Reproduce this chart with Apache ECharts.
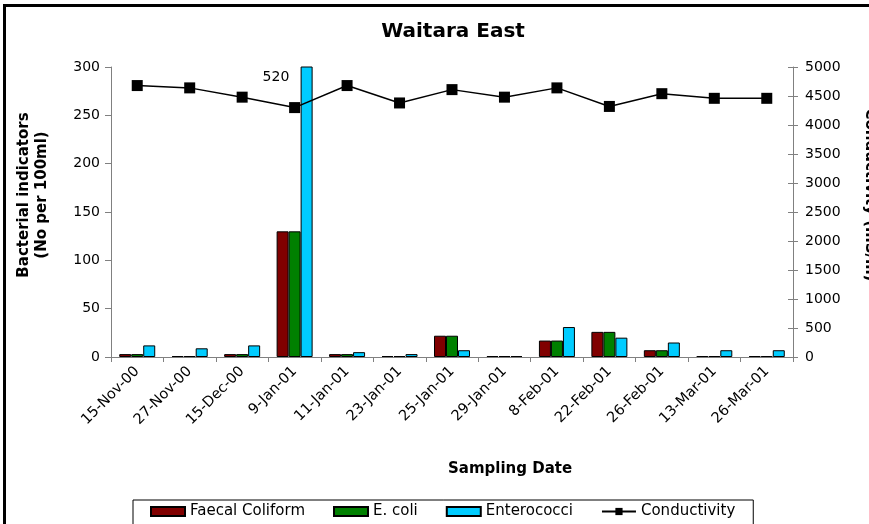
<!DOCTYPE html>
<html>
<head>
<meta charset="utf-8">
<script src="https://cdn.jsdelivr.net/npm/echarts@6/dist/echarts.min.js"></script>
<style>
    html, body { margin: 0; padding: 0; background: #fff; }
    #chart { width: 869px; height: 524px; }
</style>
</head>
<body>
<div id="chart"></div>
<script>
    const categories = ['15-Nov-00', '27-Nov-00', '15-Dec-00', '9-Jan-01', '11-Jan-01', '23-Jan-01', '25-Jan-01',
        '29-Jan-01', '8-Feb-01', '22-Feb-01', '26-Feb-01', '13-Mar-01', '26-Mar-01']
    const faecalColiform = [3, 1, 3, 130, 3, 1, 22, 1, 17, 26, 7, 1, 1]
    const eColi = [3, 1, 3, 130, 3, 1, 22, 1, 17, 26, 7, 1, 1]
    const enterococci = [12, 9, 12, 520, 5, 3, 7, 1, 31, 20, 15, 7, 7]
    const conductivity = [4680, 4640, 4480, 4300, 4680, 4380, 4610, 4480, 4640, 4320, 4540, 4460, 4460]
    const bacteriaTicks = [0, 300, 50]
    const condTicks = [0, 5000, 500]

    const font = 'DejaVu Sans'
    const axisGray = '#808080'

    // the 9-Jan enterococci value runs off the top, so label it by hand
    const enteroData = enterococci.map((v, i) => {
        if (v <= bacteriaTicks[1]) return v
        return {
            value: v,
            label: {
                show: true,
                position: [-38, 4],
                align: 'left',
                verticalAlign: 'top',
                formatter: '{c}',
                color: '#000',
                fontFamily: font,
                fontSize: 14
            }
        }
    })

    const barStyle = (color) => ({ color: color, borderColor: '#000', borderWidth: 1 })

    const myChart = echarts.init(document.getElementById('chart'))
    const option = {
        animation: false,
        backgroundColor: '#fff',
        textStyle: { fontFamily: font },
        title: {
            text: 'Waitara East',
            left: 448,
            top: 17,
            textAlign: 'center',
            textStyle: { fontFamily: font, fontSize: 20, fontWeight: 'bold', color: '#000' }
        },
        graphic: [
            {
                type: 'rect',
                shape: { x: 4.5, y: 5.5, width: 1000, height: 1000 },
                style: { fill: 'none', stroke: '#000', lineWidth: 3 },
                silent: true
            },
            {
                type: 'text',
                left: 448,
                top: 462,
                style: {
                    text: 'Sampling Date',
                    fill: '#000',
                    font: 'bold 15px "DejaVu Sans"',
                    textAlign: 'center'
                }
            }
        ],
        legend: {
            left: 133,
            top: 500,
            padding: [4, 18, 10, 17],
            borderColor: '#000',
            borderWidth: 1,
            itemWidth: 34,
            itemHeight: 9,
            itemGap: 28,
            textStyle: { fontFamily: font, fontSize: 15, color: '#000' },
            data: [
                { name: 'Faecal Coliform', icon: 'rect' },
                { name: 'E. coli', icon: 'rect' },
                { name: 'Enterococci', icon: 'rect' },
                'Conductivity'
            ]
        },
        grid: {
            left: 111,
            right: 76,
            top: 67,
            bottom: 167,
            containLabel: false,
            outerBoundsMode: 'none'
        },
        xAxis: {
            type: 'category',
            data: categories,
            axisLine: { lineStyle: { color: axisGray } },
            axisTick: { show: true, length: 5, lineStyle: { color: axisGray } },
            axisLabel: {
                interval: 0,
                rotate: 45,
                margin: 12,
                color: '#000',
                fontFamily: font,
                fontSize: 14.5
            }
        },
        yAxis: [
            {
                type: 'value',
                min: bacteriaTicks[0],
                max: bacteriaTicks[1],
                interval: bacteriaTicks[2],
                name: 'Bacterial indicators\n(No per 100ml)',
                nameLocation: 'middle',
                nameGap: 60,
                nameRotate: 90,
                nameTextStyle: {
                    fontFamily: font,
                    fontSize: 15,
                    fontWeight: 'bold',
                    color: '#000',
                    lineHeight: 18,
                    padding: [0, 0, 0, 34]
                },
                splitLine: { show: false },
                axisLine: { show: true, lineStyle: { color: axisGray } },
                axisTick: { show: true, length: 6, lineStyle: { color: axisGray } },
                axisLabel: { margin: 11, color: '#000', fontFamily: font, fontSize: 14 }
            },
            {
                type: 'value',
                position: 'right',
                min: condTicks[0],
                max: condTicks[1],
                interval: condTicks[2],
                name: 'Conductivity (mS/m)',
                nameLocation: 'middle',
                nameGap: 69,
                nameRotate: -90,
                nameTextStyle: {
                    fontFamily: font,
                    fontSize: 15,
                    fontWeight: 'bold',
                    color: '#000',
                    padding: [0, 34, 0, 0]
                },
                splitLine: { show: false },
                axisLine: { show: true, lineStyle: { color: axisGray } },
                axisTick: { show: true, length: 5, lineStyle: { color: axisGray } },
                axisLabel: {
                    margin: 12,
                    color: '#000',
                    fontFamily: font,
                    fontSize: 14,
                    formatter: (v) => String(v)
                }
            },
            {
                // inner half of the right axis ticks (they cross the line)
                type: 'value',
                position: 'right',
                min: condTicks[0],
                max: condTicks[1],
                interval: condTicks[2],
                splitLine: { show: false },
                axisLine: { show: false },
                axisLabel: { show: false },
                axisTick: { show: true, inside: true, length: 5, lineStyle: { color: axisGray } }
            }
        ],
        series: [
            {
                name: 'Faecal Coliform',
                type: 'bar',
                barWidth: 12,
                barGap: '0%',
                itemStyle: barStyle('#800000'),
                data: faecalColiform
            },
            {
                name: 'E. coli',
                type: 'bar',
                barWidth: 12,
                barGap: '0%',
                itemStyle: barStyle('#008000'),
                data: eColi
            },
            {
                name: 'Enterococci',
                type: 'bar',
                barWidth: 12,
                barGap: '0%',
                clip: true,
                itemStyle: barStyle('#00CCFF'),
                data: enteroData
            },
            {
                name: 'Conductivity',
                type: 'line',
                yAxisIndex: 1,
                z: 5,
                symbol: 'rect',
                symbolSize: 11,
                color: '#000',
                lineStyle: { color: '#000', width: 1.5 },
                itemStyle: { color: '#000' },
                data: conductivity
            }
        ]
    }
    myChart.setOption(option)
</script>
</body>
</html>
